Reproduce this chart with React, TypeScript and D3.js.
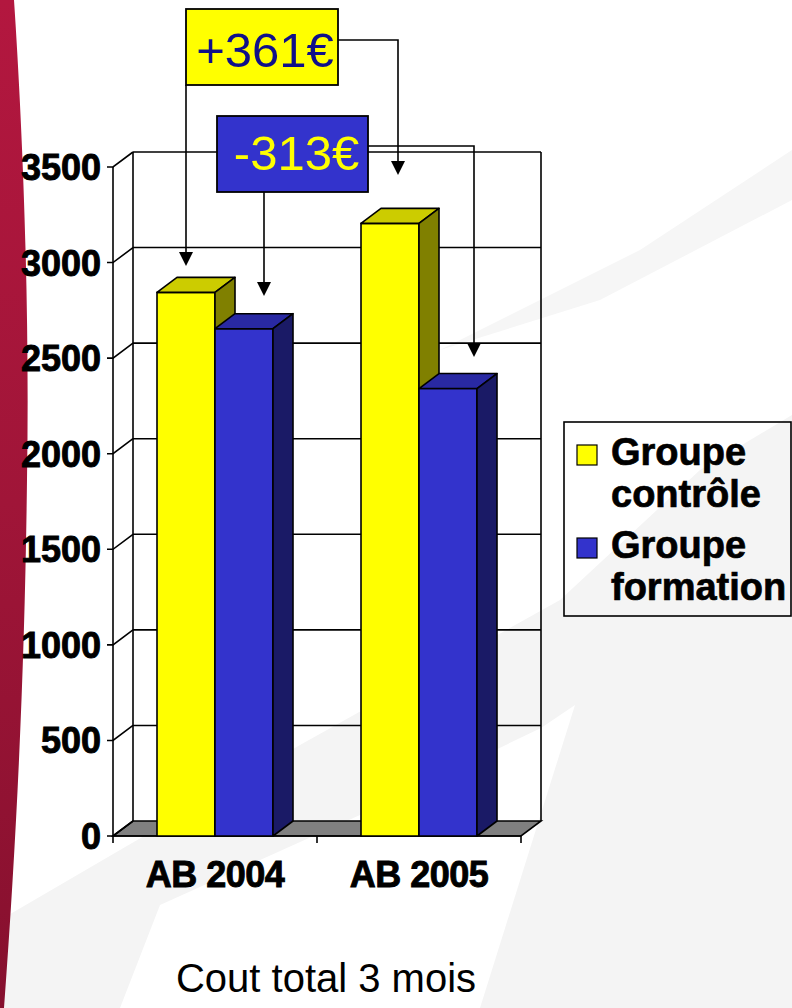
import React from "react";
import * as d3 from "d3";

const categories = ["AB 2004", "AB 2005"];
const seriesNames = ["Groupe contrôle", "Groupe formation"];
const controle = [2844, 3205];
const formation = [2654, 2341];
const yTicks = [0, 500, 1000, 1500, 2000, 2500, 3000, 3500];
const legendLines = [["Groupe", "contrôle"], ["Groupe", "formation"]];
const deltaLabels = ["+361€", "-313€"];
const title = "Cout total 3 mois";

const W = 792, H = 1008;
const DX = 20, DY = 15;
const FONT = "'Liberation Sans', Arial, Helvetica, sans-serif";

const seriesColors = [
  { front: "#ffff00", top: "#cccc00", side: "#808000" },
  { front: "#3333cc", top: "#2929a3", side: "#1a1a66" },
];

export default function App() {
  const y = d3.scaleLinear().domain([0, 3500]).range([836, 167]);
  const x0 = d3.scaleBand<string>().domain(categories).range([113, 521]).padding(0);
  const x1 = d3.scaleBand<string>().domain(seriesNames).range([0, x0.bandwidth()]).paddingInner(0).paddingOuter(0.7586);
  const data = [controle, formation];
  const [xl, xr] = x0.range();
  const y0 = y(0);
  const yTop = y(3500);
  const bw = x1.bandwidth();

  const bars: any[] = [];
  categories.forEach((c, ci) => {
    seriesNames.forEach((s, si) => {
      const v = data[si][ci];
      const bx = (x0(c) as number) + (x1(s) as number);
      const by = y(v);
      const col = seriesColors[si];
      bars.push(
        <g key={c + s} stroke="#000" strokeWidth={1.6} strokeLinejoin="round">
          <rect x={bx} y={by} width={bw} height={y0 - by} fill={col.front} />
          <polygon points={`${bx},${by} ${bx + DX},${by - DY} ${bx + bw + DX},${by - DY} ${bx + bw},${by}`} fill={col.top} />
          <polygon points={`${bx + bw},${by} ${bx + bw + DX},${by - DY} ${bx + bw + DX},${y0 - DY} ${bx + bw},${y0}`} fill={col.side} />
        </g>
      );
    });
  });

  const bxOf = (ci: number, si: number) => (x0(categories[ci]) as number) + (x1(seriesNames[si]) as number);
  const arrowA1 = { x: bxOf(0, 0) + bw / 2, y: y(2982) };
  const arrowA2 = { x: bxOf(1, 0) + bw / 2 + 8, y: y(3458) };
  const arrowB1 = { x: bxOf(0, 1) + bw / 2 + 20, y: y(2825) };
  const arrowB2 = { x: bxOf(1, 1) + bw / 2 + 26, y: y(2506) };
  const boxA = { x: 186, y: 9, w: 152, h: 76 };
  const boxB = { x: 217, y: 116, w: 151, h: 76 };
  const arrowHead = (p: { x: number; y: number }) =>
    `${p.x - 7},${p.y - 14} ${p.x + 7},${p.y - 14} ${p.x},${p.y}`;

  return (
    <svg width={W} height={H} style={{ position: "absolute", left: 0, top: 0 }} fontFamily={FONT}>
      <defs>
        <linearGradient id="redg" x1="0" y1="0" x2="0" y2="1">
          <stop offset="0" stopColor="#b3173f" />
          <stop offset="0.5" stopColor="#a01538" />
          <stop offset="1" stopColor="#86102e" />
        </linearGradient>
      </defs>
      <rect x={0} y={0} width={W} height={H} fill="#ffffff" />
      {/* background swooshes */}
      <polygon points="0,920 300,745 560,600 700,470 792,415 792,1008 0,1008" fill="#f4f4f4" />
      <polygon points="120,1008 160,905 360,815 541,728 575,705 480,1008" fill="#ffffff" />
      <polygon points="440,350 640,250 792,150 792,200 600,300" fill="#f6f6f6" />
      {/* red stripe */}
      <path d="M0,0 L14,0 C22,120 30,300 27,480 C25,650 18,820 4,1008 L0,1008 Z" fill="url(#redg)" />

      {/* floor */}
      <polygon points={`${xl},${y0} ${xl + DX},${y0 - DY} ${xr + DX},${y0 - DY} ${xr},${y0}`} fill="#808080" stroke="#000" strokeWidth={1.6} />
      {/* back wall gridlines and side wall */}
      <g stroke="#000" strokeWidth={1.6} fill="none">
        {yTicks.map((t) => (
          <g key={t}>
            {t > 0 && <line x1={xl + DX} x2={xr + DX} y1={y(t) - DY} y2={y(t) - DY} />}
            <polyline points={`${xl - 6},${y(t)} ${xl},${y(t)} ${xl + DX},${y(t) - DY}`} />
          </g>
        ))}
        <line x1={xl + DX} x2={xl + DX} y1={yTop - DY} y2={y0 - DY} />
        <line x1={xr + DX} x2={xr + DX} y1={yTop - DY} y2={y0 - DY} />
        <line x1={xl} x2={xl} y1={yTop} y2={y0} />
        <line x1={xl} x2={xr} y1={y0} y2={y0} />
        {[xl, (x0(categories[1]) as number), xr].map((tx, i) => (
          <line key={i} x1={tx} x2={tx} y1={y0} y2={y0 + 7} />
        ))}
      </g>
      {/* y labels */}
      <g fontWeight="bold" fontSize={36} textAnchor="end" fill="#000" stroke="#000" strokeWidth={0.9}>
        {yTicks.map((t) => (
          <text key={t} x={101} y={y(t) + 13}>{t}</text>
        ))}
      </g>
      {/* bars */}
      {bars}
      {/* x labels */}
      <g fontWeight="bold" fontSize={36} textAnchor="middle" fill="#000" stroke="#000" strokeWidth={0.9}>
        {categories.map((c) => (
          <text key={c} x={(x0(c) as number) + x0.bandwidth() / 2} y={887} letterSpacing={-0.5}>{c}</text>
        ))}
      </g>
      {/* connectors */}
      <g stroke="#000" strokeWidth={1.6} fill="none">
        <polyline points={`${arrowA1.x},${boxA.y + boxA.h} ${arrowA1.x},${arrowA1.y - 12}`} />
        <polyline points={`${boxA.x + boxA.w},40 ${arrowA2.x},40 ${arrowA2.x},${arrowA2.y - 12}`} />
        <polyline points={`${arrowB1.x},${boxB.y + boxB.h} ${arrowB1.x},${arrowB1.y - 12}`} />
        <polyline points={`${boxB.x + boxB.w},146 ${arrowB2.x},146 ${arrowB2.x},${arrowB2.y - 12}`} />
      </g>
      <g fill="#000">
        {[arrowA1, arrowA2, arrowB1, arrowB2].map((p, i) => (
          <polygon key={i} points={arrowHead(p)} />
        ))}
      </g>
      {/* boxes */}
      <rect x={boxA.x} y={boxA.y} width={boxA.w} height={boxA.h} fill="#ffff00" stroke="#000" strokeWidth={1.8} />
      <text x={boxA.x + boxA.w / 2 + 3} y={67} fontSize={49} textAnchor="middle" fill="#10108a">{deltaLabels[0]}</text>
      <rect x={boxB.x} y={boxB.y} width={boxB.w} height={boxB.h} fill="#3333cc" stroke="#000" strokeWidth={1.8} />
      <text x={boxB.x + boxB.w / 2 + 4} y={170} fontSize={49} textAnchor="middle" fill="#ffff00">{deltaLabels[1]}</text>

      {/* legend */}
      <rect x={564} y={422} width={227} height={194} fill="none" stroke="#000" strokeWidth={1.6} />
      {legendLines.map((lines, i) => (
        <g key={i}>
          <rect x={577} y={445 + i * 93} width={20} height={20} fill={seriesColors[i].front} stroke="#000" strokeWidth={1.2} />
          {lines.map((l, j) => (
            <text key={j} x={611} y={465 + i * 93 + j * 42} fontSize={38} fontWeight="bold" fill="#000" stroke="#000" strokeWidth={0.7}>{l}</text>
          ))}
        </g>
      ))}
      {/* title */}
      <text x={326} y={992} fontSize={40} textAnchor="middle" fill="#000">{title}</text>
    </svg>
  );
}
